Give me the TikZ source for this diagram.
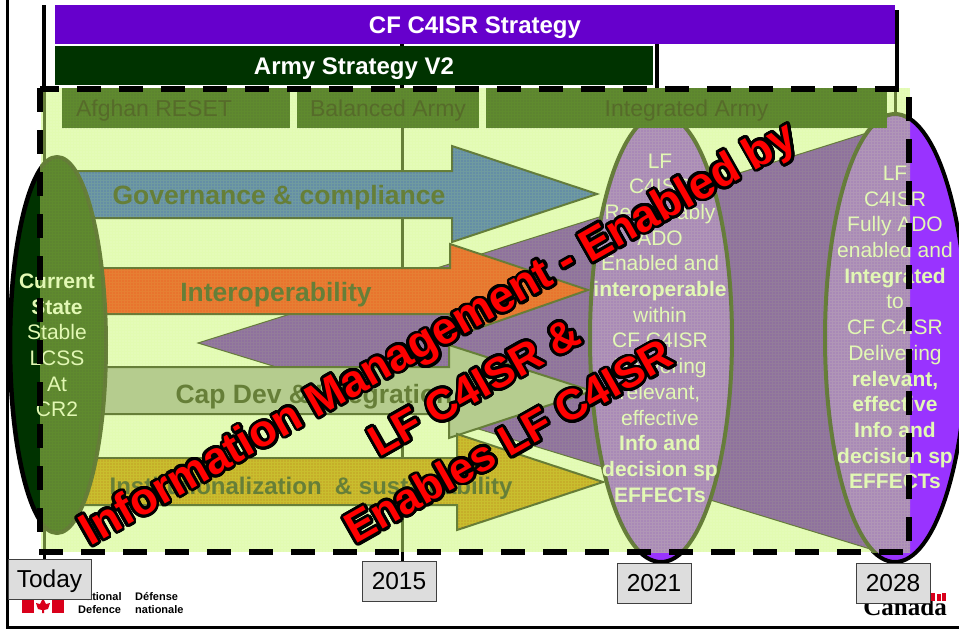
\documentclass[tikz,border=0pt]{standalone}
\usepackage{fontspec}
\usepackage{contour}
\setmainfont{Liberation Sans}
\newfontfamily\wordmarkfont{Liberation Serif}
\usetikzlibrary{patterns.meta}
\contourlength{2.8pt}
\contournumber{32}
\definecolor{palegreen}{HTML}{E2FBB2}
\definecolor{rimgreen}{HTML}{667F38}
\definecolor{bargreen}{HTML}{5F8A2E}
\definecolor{darkgreen}{HTML}{003300}
\definecolor{cfpurple}{HTML}{6600CC}
\definecolor{brightpurple}{HTML}{9933FF}
\definecolor{ovalpurple}{HTML}{B096B6}
\definecolor{fanpurple}{HTML}{937C9A}
\definecolor{govblue}{HTML}{6F9B9F}
\definecolor{intorange}{HTML}{E67F33}
\definecolor{capgreen}{HTML}{B5CC8E}
\definecolor{instyellow}{HTML}{C9BE2E}
\definecolor{ovaltext}{HTML}{E2F8B4}
\definecolor{boxgrey}{HTML}{DDDDDD}
\definecolor{flagred}{HTML}{D9001B}
\definecolor{phasetext}{HTML}{566B2A}
\tikzset{
  dotted fill/.style={postaction={pattern={Dots[radius=.35pt,distance=3pt]},pattern color=#1}},
  dotted fill/.default=black!70,
  stripbox/.style={minimum height=39pt,inner sep=0pt,font=\fontsize{24}{24}\selectfont\bfseries,text=white,text height=17pt,text depth=0pt},
  phasebox/.style={fill=bargreen,dotted fill,minimum height=40pt,inner sep=0pt,font=\fontsize{23}{23}\selectfont,text=phasetext,text height=17pt,text depth=0pt},
  flowarrow/.style={draw=rimgreen,line width=2pt},
  flowlabel/.style={font=\fontsize{26.5}{26.5}\selectfont\bfseries,text=rimgreen},
  ovaltxt/.style={align=center,text=ovaltext,font=\fontsize{21}{25.7}\selectfont,inner sep=0pt},
  yearbox/.style={draw=black!75,line width=1pt,fill=boxgrey,minimum width=74pt,minimum height=40pt,inner sep=0pt,font=\fontsize{24.5}{24.5}\selectfont,text height=17pt,text depth=0pt},
  redtext/.style={rotate=29.5,inner sep=0pt,text=red,font=\fontsize{43}{43}\selectfont\bfseries},
  edgedash/.style={line width=5.5pt,dash pattern=on 24pt off 18pt}
}
\begin{document}
\begin{tikzpicture}[x=1pt,y=-1pt]
\useasboundingbox (0,0) rectangle (959,629);
\fill[white] (0,0) rectangle (959,629);
\draw[line width=3pt] (7,0) -- (7,627.5) -- (959,627.5);
\draw[line width=3.5pt] (44,5) -- (44,90);
\draw[line width=3.5pt] (402,44) -- (402,90);
\draw[line width=3.5pt] (657,44) -- (657,90);
\draw[line width=3.5pt] (897,10) -- (897,90);
\node[stripbox,fill=cfpurple,minimum width=840pt] (cfbar) at (475,24.5) {CF C4ISR Strategy};
\node[stripbox,fill=darkgreen,minimum width=598pt] (armybar) at (354,65.5) {Army Strategy V2};

\draw[line width=4.5pt,fill=darkgreen] (57,345) ellipse [x radius=47,y radius=188];
\draw[line width=4pt,fill=brightpurple] (661,338) ellipse [x radius=72,y radius=224];
\draw[line width=4pt,fill=brightpurple] (895,338) ellipse [x radius=72,y radius=224];

\fill[palegreen,dotted fill=white] (41,88) rectangle (910,552);
\begin{scope}
\clip (40,88) rectangle (910,552);
\draw[rimgreen,line width=3pt] (44,88) -- (44,552);
\draw[rimgreen,line width=3pt] (402,88) -- (402,552);
\draw[rimgreen,line width=3pt] (895,88) -- (895,130);
\draw[rimgreen,line width=1pt,fill=fanpurple,dotted fill=cfpurple] (198,343) -- (870,132) -- (880,552) -- cycle;
\draw[flowarrow,fill=govblue,dotted fill=blue] (70,171) -- (452,171) -- (452,146) -- (597,194) -- (452,242) -- (452,218) -- (70,218) -- cycle;
\draw[flowarrow,fill=intorange,dotted fill=red] (70,268) -- (450,268) -- (450,244) -- (588,290) -- (450,338) -- (450,314) -- (70,314) -- cycle;
\draw[flowarrow,fill=capgreen] (70,367) -- (449,367) -- (449,345) -- (592,391) -- (449,438) -- (449,414) -- (70,414) -- cycle;
\draw[flowarrow,fill=instyellow,dotted fill=red!60!black] (80,458) -- (457,458) -- (457,434) -- (603,482) -- (457,530) -- (457,505) -- (80,505) -- cycle;
\draw[rimgreen,line width=4pt,fill=bargreen,dotted fill] (57,345) ellipse [x radius=49,y radius=188];
\draw[rimgreen,line width=4pt,fill=ovalpurple,dotted fill=cfpurple] (661,338) ellipse [x radius=71,y radius=224];
\draw[rimgreen,line width=4pt,fill=ovalpurple,dotted fill=cfpurple] (895,338) ellipse [x radius=70,y radius=224];
\end{scope}

\node[phasebox,minimum width=228pt] (afghan) at (176,108) {\hspace{-44pt}Afghan RESET};
\node[phasebox,minimum width=182pt] (balanced) at (388,108) {Balanced Army};
\node[phasebox,minimum width=401pt] (integrated) at (686.5,108) {Integrated Army};

\node[flowlabel] (govlabel) at (279,198) {Governance \& compliance};
\node[flowlabel] (intlabel) at (276,295) {Interoperability};
\node[flowlabel] (caplabel) at (314,397) {Cap Dev \& Integration};
\node[flowlabel,font=\fontsize{24}{24}\selectfont\bfseries] (instlabel) at (311,488) {Institutionalization\ \ \& sustainability};

\node[ovaltxt] (today) at (57,345.5) {\textbf{Current}\\\textbf{State}\\Stable\\LCSS\\At\\CR2};
\node[ovaltxt] (mid) at (660,328) {LF\\C4ISR\\Reasonably\\ADO\\Enabled and\\\textbf{interoperable}\\within\\CF C4ISR\\Delivering\\relevant,\\effective\\\textbf{Info and}\\\textbf{decision sp}\\\textbf{EFFECTs}};
\node[ovaltxt] (end) at (895,327.5) {LF\\C4ISR\\Fully ADO\\enabled and\\\textbf{Integrated}\\to\\CF C4ISR\\Delivering\\\textbf{relevant,}\\\textbf{effective}\\\textbf{Info and}\\\textbf{decision sp}\\\textbf{EFFECTs}};

\draw[edgedash,dash phase=5pt] (40,89) -- (899,89);
\draw[edgedash] (40,88) -- (40,541);
\draw[edgedash] (909,97) -- (909,541);
\draw[edgedash] (39,552) -- (903,552);

\draw[line width=3pt] (44,552) -- (44,560);
\draw[line width=3pt] (402,552) -- (402,562);

\fill[flagred] (22,599) rectangle (34,613);
\fill[flagred] (52,599) rectangle (64,613);
\fill[flagred] (43,598) -- (46,604) -- (50,603) -- (48,609) -- (44,610) -- (44,613) -- (42,613) -- (42,610) -- (38,609) -- (36,603) -- (40,604) -- cycle;
\node[font=\fontsize{11}{12.5}\selectfont\bfseries,align=left,anchor=north west,inner sep=0pt] (natlogo) at (78,592.5) {National\\Defence};
\node[font=\fontsize{11}{12.5}\selectfont\bfseries,align=left,anchor=north west,inner sep=0pt] (deflogo) at (135,592.5) {Défense\\nationale};
\node[font=\wordmarkfont\fontsize{25}{25}\selectfont\bfseries,anchor=south east,inner sep=0pt] (canada) at (947,616) {Canada};
\fill[flagred] (931,593) rectangle (935,601);
\fill[flagred] (937,594) rectangle (941,601);
\fill[flagred] (942,593) rectangle (946,601);

\node[yearbox,minimum width=83pt] (y0) at (49.5,579) {Today};
\node[yearbox] (y1) at (399,581) {2015};
\node[yearbox] (y2) at (654,583) {2021};
\node[yearbox] (y3) at (893,583) {2028};

\node[redtext,font=\fontsize{45}{45}\selectfont\bfseries] (big1) at (440,337) {\contour{black}{Information Management - Enabled by}};
\node[redtext] (big2) at (475,388) {\contour{black}{LF C4ISR \&}};
\node[redtext] (big3) at (509,442) {\contour{black}{Enables LF C4ISR}};
\end{tikzpicture}
\end{document}
